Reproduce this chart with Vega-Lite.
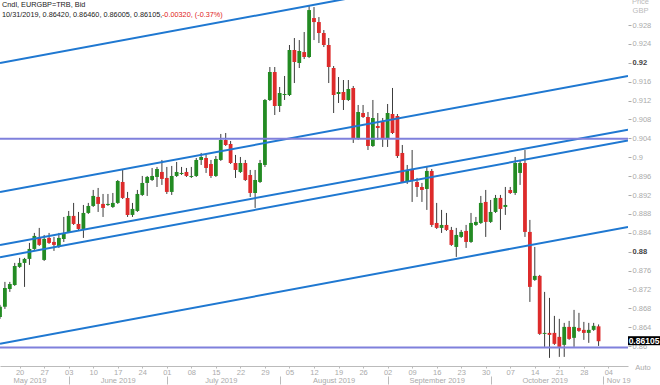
{
"$schema":"https://vega.github.io/schema/vega-lite/v6.json",
"width":628,"height":366,
"autosize":{"type":"none"},
"padding":{"left":0,"top":0,"right":32,"bottom":19},
"background":"#ffffff",
"config":{"view":{"stroke":null},"font":"Liberation Sans","axis":{"grid":false,"titleFontWeight":"normal"}},
"datasets":{
"candles":[
{"d":"2019-05-14","o":0.8662,"h":0.86874,"l":0.86578,"c":0.86832},
{"d":"2019-05-15","o":0.86832,"h":0.87361,"l":0.86789,"c":0.87234},
{"d":"2019-05-16","o":0.87213,"h":0.87361,"l":0.87149,"c":0.87318},
{"d":"2019-05-17","o":0.87297,"h":0.87763,"l":0.87276,"c":0.87699},
{"d":"2019-05-20","o":0.87678,"h":0.87869,"l":0.87657,"c":0.87763},
{"d":"2019-05-21","o":0.87763,"h":0.87869,"l":0.87255,"c":0.87848},
{"d":"2019-05-22","o":0.87848,"h":0.88186,"l":0.87721,"c":0.88059},
{"d":"2019-05-23","o":0.88059,"h":0.88398,"l":0.88038,"c":0.88334},
{"d":"2019-05-24","o":0.88292,"h":0.88504,"l":0.88123,"c":0.88144},
{"d":"2019-05-27","o":0.87826,"h":0.88355,"l":0.87805,"c":0.88271},
{"d":"2019-05-28","o":0.88292,"h":0.88398,"l":0.88165,"c":0.88186},
{"d":"2019-05-29","o":0.88207,"h":0.88313,"l":0.88017,"c":0.88144},
{"d":"2019-05-30","o":0.88101,"h":0.88398,"l":0.8808,"c":0.88292},
{"d":"2019-05-31","o":0.88271,"h":0.88736,"l":0.88207,"c":0.88377},
{"d":"2019-06-03","o":0.88419,"h":0.88863,"l":0.88398,"c":0.88758},
{"d":"2019-06-04","o":0.88758,"h":0.89033,"l":0.88567,"c":0.88588},
{"d":"2019-06-05","o":0.88588,"h":0.88842,"l":0.88461,"c":0.88482},
{"d":"2019-06-06","o":0.88482,"h":0.8899,"l":0.88292,"c":0.88821},
{"d":"2019-06-07","o":0.88821,"h":0.89033,"l":0.888,"c":0.88969},
{"d":"2019-06-10","o":0.88969,"h":0.89308,"l":0.88948,"c":0.89181},
{"d":"2019-06-11","o":0.8916,"h":0.8935,"l":0.88842,"c":0.89012},
{"d":"2019-06-12","o":0.89012,"h":0.89223,"l":0.88736,"c":0.88927},
{"d":"2019-06-13","o":0.8899,"h":0.89223,"l":0.88969,"c":0.89012},
{"d":"2019-06-14","o":0.88948,"h":0.89244,"l":0.88927,"c":0.89033},
{"d":"2019-06-17","o":0.89033,"h":0.89519,"l":0.89012,"c":0.89498},
{"d":"2019-06-18","o":0.89477,"h":0.89731,"l":0.89117,"c":0.89139},
{"d":"2019-06-19","o":0.89139,"h":0.89266,"l":0.88736,"c":0.88779},
{"d":"2019-06-20","o":0.88779,"h":0.89033,"l":0.88736,"c":0.88906},
{"d":"2019-06-21","o":0.88863,"h":0.89308,"l":0.88842,"c":0.89223},
{"d":"2019-06-24","o":0.89202,"h":0.89604,"l":0.89181,"c":0.89456},
{"d":"2019-06-25","o":0.89456,"h":0.89604,"l":0.89181,"c":0.89583},
{"d":"2019-06-26","o":0.89519,"h":0.89773,"l":0.89498,"c":0.89604},
{"d":"2019-06-27","o":0.89583,"h":0.89795,"l":0.89371,"c":0.89752},
{"d":"2019-06-28","o":0.89689,"h":0.89943,"l":0.89414,"c":0.89541},
{"d":"2019-07-01","o":0.89562,"h":0.89795,"l":0.89223,"c":0.89266},
{"d":"2019-07-02","o":0.89266,"h":0.89816,"l":0.89202,"c":0.89604},
{"d":"2019-07-03","o":0.89604,"h":0.899,"l":0.89583,"c":0.89689},
{"d":"2019-07-04","o":0.89646,"h":0.89795,"l":0.89625,"c":0.89668},
{"d":"2019-07-05","o":0.89689,"h":0.89773,"l":0.89583,"c":0.89604},
{"d":"2019-07-08","o":0.89583,"h":0.89795,"l":0.89562,"c":0.89604},
{"d":"2019-07-09","o":0.89604,"h":0.89985,"l":0.89583,"c":0.89943},
{"d":"2019-07-10","o":0.89943,"h":0.90091,"l":0.89837,"c":0.90006},
{"d":"2019-07-11","o":0.89985,"h":0.90049,"l":0.89668,"c":0.89773},
{"d":"2019-07-12","o":0.89858,"h":0.89943,"l":0.89562,"c":0.89604},
{"d":"2019-07-15","o":0.89604,"h":0.90027,"l":0.89583,"c":0.89964},
{"d":"2019-07-16","o":0.89943,"h":0.90493,"l":0.89922,"c":0.90366},
{"d":"2019-07-17","o":0.90366,"h":0.90514,"l":0.90239,"c":0.9026},
{"d":"2019-07-18","o":0.90281,"h":0.90345,"l":0.89858,"c":0.89879},
{"d":"2019-07-19","o":0.89879,"h":0.90049,"l":0.89562,"c":0.89731},
{"d":"2019-07-22","o":0.89689,"h":0.90006,"l":0.89668,"c":0.89879},
{"d":"2019-07-23","o":0.89879,"h":0.89943,"l":0.89498,"c":0.89519},
{"d":"2019-07-24","o":0.89625,"h":0.89731,"l":0.8916,"c":0.89244},
{"d":"2019-07-25","o":0.89244,"h":0.89731,"l":0.88927,"c":0.89519},
{"d":"2019-07-26","o":0.89477,"h":0.89943,"l":0.89456,"c":0.89879},
{"d":"2019-07-29","o":0.89837,"h":0.91234,"l":0.89795,"c":0.91213},
{"d":"2019-07-30","o":0.91213,"h":0.91911,"l":0.91191,"c":0.91805},
{"d":"2019-07-31","o":0.91805,"h":0.91911,"l":0.90895,"c":0.91085},
{"d":"2019-08-01","o":0.91085,"h":0.91488,"l":0.90959,"c":0.91361},
{"d":"2019-08-02","o":0.91318,"h":0.91721,"l":0.91213,"c":0.9134},
{"d":"2019-08-05","o":0.91318,"h":0.92377,"l":0.91297,"c":0.92271},
{"d":"2019-08-06","o":0.92271,"h":0.92525,"l":0.91572,"c":0.92017},
{"d":"2019-08-07","o":0.91996,"h":0.92482,"l":0.9189,"c":0.9225},
{"d":"2019-08-08","o":0.92228,"h":0.92652,"l":0.9208,"c":0.92123},
{"d":"2019-08-09","o":0.92123,"h":0.93223,"l":0.92101,"c":0.93117},
{"d":"2019-08-12","o":0.92948,"h":0.93181,"l":0.92482,"c":0.92863},
{"d":"2019-08-13","o":0.92863,"h":0.92969,"l":0.92419,"c":0.92631},
{"d":"2019-08-14","o":0.92631,"h":0.92694,"l":0.92334,"c":0.92377},
{"d":"2019-08-15","o":0.92377,"h":0.92525,"l":0.91572,"c":0.91911},
{"d":"2019-08-16","o":0.9189,"h":0.91932,"l":0.90937,"c":0.91318},
{"d":"2019-08-19","o":0.9134,"h":0.91699,"l":0.91149,"c":0.91382},
{"d":"2019-08-20","o":0.91382,"h":0.91636,"l":0.91001,"c":0.91213},
{"d":"2019-08-21","o":0.91213,"h":0.91636,"l":0.91191,"c":0.91445},
{"d":"2019-08-22","o":0.91467,"h":0.91509,"l":0.90303,"c":0.90408},
{"d":"2019-08-23","o":0.90408,"h":0.91107,"l":0.90366,"c":0.90959},
{"d":"2019-08-26","o":0.90937,"h":0.91107,"l":0.90832,"c":0.90853},
{"d":"2019-08-27","o":0.90853,"h":0.90959,"l":0.90154,"c":0.90239},
{"d":"2019-08-28","o":0.90239,"h":0.91213,"l":0.90218,"c":0.90832},
{"d":"2019-08-29","o":0.90662,"h":0.90937,"l":0.90366,"c":0.9062},
{"d":"2019-08-30","o":0.90747,"h":0.90832,"l":0.90218,"c":0.90408},
{"d":"2019-09-02","o":0.90408,"h":0.91128,"l":0.90218,"c":0.90937},
{"d":"2019-09-03","o":0.90916,"h":0.91467,"l":0.90493,"c":0.90514},
{"d":"2019-09-04","o":0.90874,"h":0.90916,"l":0.89985,"c":0.90027},
{"d":"2019-09-05","o":0.90091,"h":0.9026,"l":0.89456,"c":0.89477},
{"d":"2019-09-06","o":0.89477,"h":0.89837,"l":0.89435,"c":0.8971},
{"d":"2019-09-09","o":0.89731,"h":0.90154,"l":0.89054,"c":0.89498},
{"d":"2019-09-10","o":0.89477,"h":0.89562,"l":0.8916,"c":0.89371},
{"d":"2019-09-11","o":0.89371,"h":0.89456,"l":0.89054,"c":0.89308},
{"d":"2019-09-12","o":0.89329,"h":0.89795,"l":0.88885,"c":0.8971},
{"d":"2019-09-13","o":0.8971,"h":0.89752,"l":0.88525,"c":0.88567},
{"d":"2019-09-16","o":0.88609,"h":0.89033,"l":0.88482,"c":0.88504},
{"d":"2019-09-17","o":0.88504,"h":0.88885,"l":0.88398,"c":0.88567},
{"d":"2019-09-18","o":0.88567,"h":0.88821,"l":0.8844,"c":0.88461},
{"d":"2019-09-19","o":0.88461,"h":0.88525,"l":0.88123,"c":0.88144},
{"d":"2019-09-20","o":0.88101,"h":0.88504,"l":0.8789,"c":0.88355},
{"d":"2019-09-23","o":0.88313,"h":0.88461,"l":0.88292,"c":0.88419},
{"d":"2019-09-24","o":0.8844,"h":0.88567,"l":0.8808,"c":0.88207},
{"d":"2019-09-25","o":0.88207,"h":0.88821,"l":0.88186,"c":0.88609},
{"d":"2019-09-26","o":0.88567,"h":0.88736,"l":0.88546,"c":0.88631},
{"d":"2019-09-27","o":0.88609,"h":0.89181,"l":0.88588,"c":0.89033},
{"d":"2019-09-30","o":0.89054,"h":0.89308,"l":0.88313,"c":0.88631},
{"d":"2019-10-01","o":0.88631,"h":0.89096,"l":0.88609,"c":0.88842},
{"d":"2019-10-02","o":0.88842,"h":0.89202,"l":0.88821,"c":0.89139},
{"d":"2019-10-03","o":0.89139,"h":0.89202,"l":0.88461,"c":0.88906},
{"d":"2019-10-04","o":0.88948,"h":0.89371,"l":0.88779,"c":0.8899},
{"d":"2019-10-07","o":0.89308,"h":0.89371,"l":0.89223,"c":0.89244},
{"d":"2019-10-08","o":0.89244,"h":0.90006,"l":0.89202,"c":0.89879},
{"d":"2019-10-09","o":0.89668,"h":0.89943,"l":0.89414,"c":0.89879},
{"d":"2019-10-10","o":0.89879,"h":0.90154,"l":0.88313,"c":0.88419},
{"d":"2019-10-11","o":0.88419,"h":0.88673,"l":0.86937,"c":0.87255},
{"d":"2019-10-14","o":0.87403,"h":0.88101,"l":0.87382,"c":0.87488},
{"d":"2019-10-15","o":0.87488,"h":0.87509,"l":0.86239,"c":0.8626},
{"d":"2019-10-16","o":0.8626,"h":0.87149,"l":0.85985,"c":0.86281},
{"d":"2019-10-17","o":0.86281,"h":0.87022,"l":0.85752,"c":0.86239},
{"d":"2019-10-18","o":0.86281,"h":0.86641,"l":0.86027,"c":0.86049},
{"d":"2019-10-21","o":0.86197,"h":0.86578,"l":0.85773,"c":0.85985},
{"d":"2019-10-22","o":0.86027,"h":0.86493,"l":0.85773,"c":0.86408},
{"d":"2019-10-23","o":0.86408,"h":0.86535,"l":0.86133,"c":0.86154},
{"d":"2019-10-24","o":0.86176,"h":0.86768,"l":0.85985,"c":0.86408},
{"d":"2019-10-25","o":0.86387,"h":0.86705,"l":0.86303,"c":0.86324},
{"d":"2019-10-28","o":0.86345,"h":0.86514,"l":0.86133,"c":0.86281},
{"d":"2019-10-29","o":0.86281,"h":0.86493,"l":0.8607,"c":0.86345},
{"d":"2019-10-30","o":0.86345,"h":0.86493,"l":0.86324,"c":0.8643},
{"d":"2019-10-31","o":0.8642,"h":0.8646,"l":0.86005,"c":0.86105}
],
"lines":[
{"k":"L1","d":"2019-05-14","p":0.91996},{"k":"L1","d":"2019-11-08","p":0.94461},
{"k":"L2","d":"2019-05-14","p":0.89265},{"k":"L2","d":"2019-11-08","p":0.91721},
{"k":"L3","d":"2019-05-14","p":0.88144},{"k":"L3","d":"2019-11-08","p":0.90582},
{"k":"L4","d":"2019-05-14","p":0.87883},{"k":"L4","d":"2019-11-08","p":0.90355},
{"k":"L5","d":"2019-05-14","p":0.86049},{"k":"L5","d":"2019-11-08","p":0.88525},
{"k":"H1","d":"2019-05-14","p":0.9039},{"k":"H1","d":"2019-11-08","p":0.9039},
{"k":"H2","d":"2019-05-14","p":0.8597},{"k":"H2","d":"2019-11-08","p":0.8597}
]
},
"layer":[
{"data":{"name":"candles"},
 "mark":{"type":"rule","color":"#3c3c3c","strokeWidth":1,"clip":true},
 "encoding":{
  "x":{"field":"d","type":"ordinal",
   "scale":{"type":"point","padding":0,"domain":["2019-05-14","2019-05-15","2019-05-16","2019-05-17","2019-05-20","2019-05-21","2019-05-22","2019-05-23","2019-05-24","2019-05-27","2019-05-28","2019-05-29","2019-05-30","2019-05-31","2019-06-03","2019-06-04","2019-06-05","2019-06-06","2019-06-07","2019-06-10","2019-06-11","2019-06-12","2019-06-13","2019-06-14","2019-06-17","2019-06-18","2019-06-19","2019-06-20","2019-06-21","2019-06-24","2019-06-25","2019-06-26","2019-06-27","2019-06-28","2019-07-01","2019-07-02","2019-07-03","2019-07-04","2019-07-05","2019-07-08","2019-07-09","2019-07-10","2019-07-11","2019-07-12","2019-07-15","2019-07-16","2019-07-17","2019-07-18","2019-07-19","2019-07-22","2019-07-23","2019-07-24","2019-07-25","2019-07-26","2019-07-29","2019-07-30","2019-07-31","2019-08-01","2019-08-02","2019-08-05","2019-08-06","2019-08-07","2019-08-08","2019-08-09","2019-08-12","2019-08-13","2019-08-14","2019-08-15","2019-08-16","2019-08-19","2019-08-20","2019-08-21","2019-08-22","2019-08-23","2019-08-26","2019-08-27","2019-08-28","2019-08-29","2019-08-30","2019-09-02","2019-09-03","2019-09-04","2019-09-05","2019-09-06","2019-09-09","2019-09-10","2019-09-11","2019-09-12","2019-09-13","2019-09-16","2019-09-17","2019-09-18","2019-09-19","2019-09-20","2019-09-23","2019-09-24","2019-09-25","2019-09-26","2019-09-27","2019-09-30","2019-10-01","2019-10-02","2019-10-03","2019-10-04","2019-10-07","2019-10-08","2019-10-09","2019-10-10","2019-10-11","2019-10-14","2019-10-15","2019-10-16","2019-10-17","2019-10-18","2019-10-21","2019-10-22","2019-10-23","2019-10-24","2019-10-25","2019-10-28","2019-10-29","2019-10-30","2019-10-31","2019-11-01","2019-11-04","2019-11-05","2019-11-06","2019-11-07","2019-11-08"]},
   "axis":{"orient":"bottom","title":null,"values":["2019-05-20","2019-05-27","2019-06-03","2019-06-10","2019-06-17","2019-06-24","2019-07-01","2019-07-08","2019-07-15","2019-07-22","2019-07-29","2019-08-05","2019-08-12","2019-08-19","2019-08-26","2019-09-02","2019-09-09","2019-09-16","2019-09-23","2019-09-30","2019-10-07","2019-10-14","2019-10-21","2019-10-28","2019-11-04"],
    "labelExpr":"slice(datum.value,8)","labelAngle":0,"labelOverlap":false,"domainColor":"#bbbbbb","tickColor":"#bbbbbb","tickSize":2,"labelColor":"#aaaaaa","labelFontSize":7.5,"labelPadding":0,"labelBaseline":"top"}},
  "y":{"field":"l","type":"quantitative",
   "scale":{"domain":[0.8558,0.9333],"nice":false,"zero":false},
   "axis":{"orient":"right","values":[0.86,0.864,0.868,0.872,0.876,0.88,0.884,0.888,0.892,0.896,0.9,0.904,0.908,0.912,0.916,0.92,0.924,0.928],"tickCount":40,
    "format":".3~f","domain":false,"ticks":true,"tickSize":3,"tickColor":"#aaaaaa","labelFontSize":7.5,"labelPadding":1,"labelOverlap":false,
    "labelColor":{"condition":{"test":"abs(datum.value-0.92)<0.0001 || abs(datum.value-0.88)<0.0001","value":"#444444"},"value":"#aaaaaa"},
    "labelFontWeight":{"condition":{"test":"abs(datum.value-0.92)<0.0001 || abs(datum.value-0.88)<0.0001","value":"bold"},"value":"normal"},
    "title":["Price","GBP"],"titleAngle":0,"titleX":12,"titleY":-3,"titleAlign":"center","titleBaseline":"top","titleFontSize":7.5,"titleColor":"#bbbbbb","titleLineHeight":9}},
  "y2":{"field":"h"}}},
{"data":{"name":"candles"},
 "mark":{"type":"bar","width":3.8,"clip":true},
 "encoding":{
  "x":{"field":"d","type":"ordinal",
   "axis":{"orient":"bottom","offset":10,"title":null,"domain":false,"ticks":false,"labelPadding":0,"labelAngle":0,"labelOverlap":false,"labelColor":"#aaaaaa","labelFontSize":7.5,"labelBaseline":"top",
    "values":["2019-05-22","2019-06-17","2019-07-16","2019-08-16","2019-09-16","2019-10-16","2019-11-06"],
    "labelExpr":"datum.value=='2019-05-22'?'May 2019':datum.value=='2019-06-17'?'June 2019':datum.value=='2019-07-16'?'July 2019':datum.value=='2019-08-16'?'August 2019':datum.value=='2019-09-16'?'September 2019':datum.value=='2019-10-16'?'October 2019':'Nov 19'"}},
  "y":{"field":"o","type":"quantitative"},
  "y2":{"field":"c"},
  "color":{"condition":{"test":"datum.c >= datum.o","value":"#238b23"},"value":"#dd2b2b"}}},
{"data":{"name":"lines"},
 "mark":{"type":"line","strokeWidth":2,"clip":true},
 "encoding":{
  "x":{"field":"d","type":"ordinal",
   "axis":{"orient":"bottom","offset":10,"title":null,"domain":false,"labels":false,"ticks":true,"tickSize":8,"tickColor":"#bbbbbb",
    "values":["2019-06-03","2019-07-01","2019-08-01","2019-09-02","2019-10-01","2019-11-01"]}},
  "y":{"field":"p","type":"quantitative"},
  "color":{"field":"k","type":"nominal","legend":null,
   "scale":{"domain":["L1","L2","L3","L4","L5","H1","H2"],"range":["#1f78d1","#1f78d1","#1f78d1","#1f78d1","#1f78d1","#7f80dc","#7f80dc"]}}}},
{"data":{"values":[{"t":"Cndl, EURGBP=TRB, Bid"}]},
 "mark":{"type":"text","align":"left","baseline":"middle","dx":2,"fontSize":7.3,"color":"#222222"},
 "encoding":{"x":{"datum":"2019-05-14","type":"ordinal","axis":null},"y":{"datum":0.9322,"type":"quantitative"},"text":{"field":"t"}}},
{"data":{"values":[{"t":"10/31/2019, 0.86420, 0.86460, 0.86005, 0.86105,"}]},
 "mark":{"type":"text","align":"left","baseline":"middle","dx":2,"fontSize":7.3,"color":"#222222"},
 "encoding":{"x":{"datum":"2019-05-14","type":"ordinal","axis":null},"y":{"datum":0.9301,"type":"quantitative"},"text":{"field":"t"}}},
{"data":{"values":[{"t":"-0.00320, (-0.37%)"}]},
 "mark":{"type":"text","align":"left","baseline":"middle","dx":0,"fontSize":7.3,"color":"#e02020"},
 "encoding":{"x":{"datum":"2019-06-28","type":"ordinal","axis":null},"y":{"datum":0.9301,"type":"quantitative"},"text":{"field":"t"}}},
{"data":{"values":[{"p":0.86105}]},
 "mark":{"type":"rect","color":"#000000","x2Offset":32,"yOffset":-5,"y2Offset":4},
 "encoding":{"x":{"datum":"2019-11-08","type":"ordinal","axis":null},"x2":{"datum":"2019-11-08"},"y":{"field":"p","type":"quantitative"},"y2":{"field":"p"}}},
{"data":{"values":[{"p":0.86105,"t":"0.86105"}]},
 "mark":{"type":"text","align":"center","baseline":"middle","dx":16,"fontSize":8.5,"fontWeight":"bold","color":"#ffffff"},
 "encoding":{"x":{"datum":"2019-11-08","type":"ordinal","axis":null},"y":{"field":"p","type":"quantitative"},"text":{"field":"t"}}},
{"data":{"values":[{"t":"Auto"}]},
 "mark":{"type":"text","align":"center","baseline":"middle","dx":15,"fontSize":7.5,"color":"#aaaaaa"},
 "encoding":{"x":{"datum":"2019-11-08","type":"ordinal","axis":null},"y":{"datum":0.8554,"type":"quantitative"},"text":{"field":"t"}}}
],
"resolve":{"axis":{"x":"independent"}}
}
